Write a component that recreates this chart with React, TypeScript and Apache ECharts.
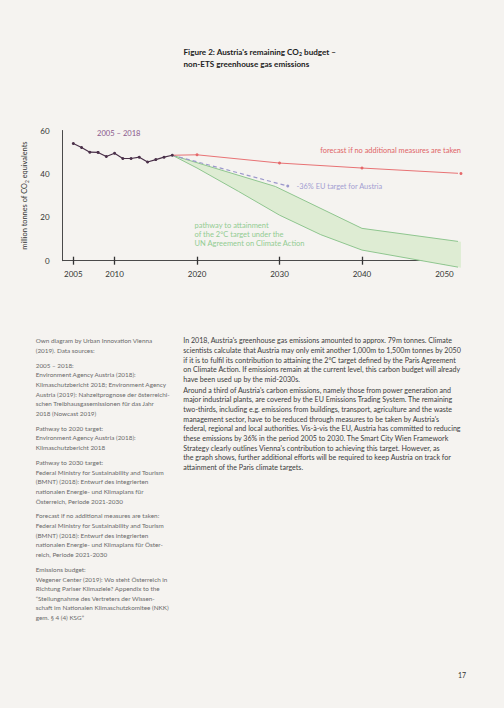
import React, { useEffect, useRef } from 'react';
import * as echarts from 'echarts';

const BG = '#f5f3f0';
const FONT = 'Lato, "Open Sans", sans-serif';

// ---- data ----
const histYears = [2005, 2006, 2007, 2008, 2009, 2010, 2011, 2012, 2013, 2014, 2015, 2016, 2017];
const histValues = [54.0, 52.2, 50.0, 49.9, 48.0, 49.5, 47.1, 47.1, 47.7, 45.5, 46.6, 47.7, 48.6];

const forecastYears = [2017, 2020, 2030, 2040, 2052];
const forecastValues = [48.6, 48.8, 45.0, 42.7, 40.2];

const euTargetYears = [2017, 2031];
const euTargetValues = [48.6, 34.4];

const pathUpperYears = [2017, 2029.5, 2040, 2052];
const pathUpperValues = [48.6, 34.2, 14.9, 8.7];

const pathLowerYears = [2017, 2020, 2025, 2030, 2035, 2040, 2052];
const pathLowerValues = [48.6, 42.7, 32.0, 21.0, 12.0, 4.9, -3.2];

const xTickYears = [2005, 2010, 2020, 2030, 2040, 2050];

const titleLines = ["Figure 2: Austria's remaining CO{s|2} budget –", 'non-ETS greenhouse gas emissions'];

const leftParas = [
  ['Own diagram by Urban Innovation Vienna', '(2019). Data sources:'],
  [
    '2005 – 2018:',
    'Environment Agency Austria (2018):',
    'Klimaschutzbericht 2018; Environment Agency',
    'Austria (2019): Nahzeitprognose der österreichi-',
    'schen Treibhausgasemissionen für das Jahr',
    '2018 (Nowcast 2019)',
  ],
  ['Pathway to 2020 target:', 'Environment Agency Austria (2018):', 'Klimaschutzbericht 2018'],
  [
    'Pathway to 2030 target:',
    'Federal Ministry for Sustainability and Tourism',
    '(BMNT) (2018): Entwurf des integrierten',
    'nationalen Energie- und Klimaplans für',
    'Österreich, Periode 2021-2030',
  ],
  [
    'Forecast if no additional measures are taken:',
    'Federal Ministry for Sustainability and Tourism',
    '(BMNT) (2018): Entwurf des integrierten',
    'nationalen Energie- und Klimaplans für Öster-',
    'reich, Periode 2021-2030',
  ],
  [
    'Emissions budget:',
    'Wegener Center (2019): Wo steht Österreich in',
    'Richtung Pariser Klimaziele? Appendix to the',
    '“Stellungnahme des Vertreters der Wissen-',
    'schaft im Nationalen Klimaschutzkomitee (NKK)',
    'gem. § 4 (4) KSG”',
  ],
];

const rightParas = [
  [
    "In 2018, Austria's greenhouse gas emissions amounted to approx. 79m tonnes. Climate",
    'scientists calculate that Austria may only emit another 1,000m to 1,500m tonnes by 2050',
    'if it is to fulfil its contribution to attaining the 2°C target defined by the Paris Agreement',
    'on Climate Action. If emissions remain at the current level, this carbon budget will already',
    'have been used up by the mid-2030s.',
  ],
  [
    "Around a third of Austria's carbon emissions, namely those from power generation and",
    'major industrial plants, are covered by the EU Emissions Trading System. The remaining',
    'two-thirds, including e.g. emissions from buildings, transport, agriculture and the waste',
    "management sector, have to be reduced through measures to be taken by Austria's",
    'federal, regional and local authorities. Vis-à-vis the EU, Austria has committed to reducing',
    'these emissions by 36% in the period 2005 to 2030. The Smart City Wien Framework',
    "Strategy clearly outlines Vienna's contribution to achieving this target. However, as",
    'the graph shows, further additional efforts will be required to keep Austria on track for',
    'attainment of the Paris climate targets.',
  ],
];

const pathwayLabel = ['pathway to attainment', 'of the 2°C target under the', 'UN Agreement on Climate Action'];

function zipPairs(xs: number[], ys: number[]) {
  return xs.map((x, i) => [x, ys[i]]);
}

function paraTexts(paras: string[][], x: number, y0: number, lh: number, gap: number, size: number, color: string) {
  const out: any[] = [];
  let y = y0;
  paras.forEach((p) => {
    p.forEach((line) => {
      out.push({
        type: 'text',
        x,
        y,
        silent: true,
        style: { text: line, fontSize: size, fontFamily: FONT, fill: color, align: 'left', verticalAlign: 'middle' },
      });
      y += lh;
    });
    y += gap;
  });
  return out;
}

export default function App() {
  const ref = useRef<HTMLDivElement>(null);

  useEffect(() => {
    document.body.style.background = BG;
    const chart = echarts.init(ref.current!, null, { renderer: 'svg' });

    const textEl = (text: string, x: number, y: number, size: number, color: string, align = 'left', weight: any = 'normal', rich?: any) => ({
      type: 'text',
      x,
      y,
      silent: true,
      style: {
        text,
        fontSize: size,
        fontFamily: FONT,
        fontWeight: weight,
        fill: color,
        align,
        verticalAlign: 'middle',
        rich,
      },
    });

    const titleRich = { s: { fontSize: 5.2, fontWeight: 'bold', fontFamily: FONT, fill: '#222', padding: [5, 0, 0, 0] } };

    const graphics: any[] = [
      textEl(titleLines[0], 183.5, 51.5, 8.1, '#222', 'left', 'bold', titleRich),
      textEl(titleLines[1], 183.5, 63.8, 8.1, '#222', 'left', 'bold'),
      textEl('2005 – 2018', 97, 132.5, 7.6, '#8a5a8c'),
      textEl('forecast if no additional measures are taken', 461, 150.8, 7.4, '#e06466', 'right'),
      textEl('-36% EU target for Austria', 296.5, 186.2, 7.4, '#a39ed2'),
      ...pathwayLabel.map((l, i) => textEl(l, 194.5, 225 + i * 9.4, 7.5, '#93cc93')),
      ...paraTexts(leftParas, 35.7, 340.7, 9.65, 5.2, 6.35, '#6a6a6a'),
      ...paraTexts(rightParas, 183.3, 340.7, 9.65, 1.2, 7.1, '#3c3c3c'),
      textEl('17', 462, 674.5, 7, '#333', 'center'),
    ];

    const option: any = {
      animation: false,
      backgroundColor: BG,
      grid: { left: 62.6, right: 48, top: 130.5, bottom: 447.3, containLabel: false },
      xAxis: [
        {
          type: 'value',
          min: 2003.7,
          max: 2051.4,
          position: 'bottom',
          axisLine: { show: true, lineStyle: { color: '#4a4a4a', width: 1 } },
          axisTick: { show: true, customValues: xTickYears, length: 4, lineStyle: { color: '#333', width: 1.3 } },
          axisLabel: {
            show: true,
            customValues: xTickYears,
            formatter: (v: number) => String(v),
            margin: 9,
            fontSize: 8,
            color: '#333',
            fontFamily: FONT,
          },
          splitLine: { show: false },
        },
        {
          type: 'value',
          min: 2003.7,
          max: 2051.4,
          position: 'bottom',
          axisLine: { show: false },
          axisTick: { show: true, inside: true, customValues: xTickYears, length: 4, lineStyle: { color: '#333', width: 1.3 } },
          axisLabel: { show: false },
          splitLine: { show: false },
        },
      ],
      yAxis: {
        type: 'value',
        min: 0,
        max: 60,
        interval: 20,
        axisLine: { show: true, lineStyle: { color: '#4a4a4a', width: 1 } },
        axisTick: { show: false },
        splitLine: { show: false },
        axisLabel: { margin: 13, fontSize: 8, color: '#333', fontFamily: FONT },
        name: 'million tonnes of CO{s|2} equivalents',
        nameLocation: 'middle',
        nameRotate: 90,
        nameGap: 32,
        nameTextStyle: {
          fontSize: 7.4,
          color: '#333',
          fontFamily: FONT,
          rich: { s: { fontSize: 4.8, color: '#333', fontFamily: FONT, padding: [0, 0, -4, 0] } },
        },
      },
      graphic: graphics,
      series: [
        {
          type: 'custom',
          clip: false,
          silent: true,
          z: 1,
          data: [[2030, 30]],
          renderItem: (params: any, api: any) => {
            const up = pathUpperYears.map((x, i) => api.coord([x, pathUpperValues[i]]));
            const lo = pathLowerYears.map((x, i) => api.coord([x, pathLowerValues[i]])).reverse();
            return {
              type: 'polygon',
              shape: { points: [...up, ...lo] },
              style: { fill: '#deecd3', stroke: 'none' },
            };
          },
        },
        {
          type: 'line',
          data: zipPairs(pathUpperYears, pathUpperValues),
          clip: false,
          symbol: 'none',
          lineStyle: { color: '#8fc68f', width: 1 },
          z: 2,
        },
        {
          type: 'line',
          data: zipPairs(pathLowerYears, pathLowerValues),
          clip: false,
          symbol: 'none',
          lineStyle: { color: '#8fc68f', width: 1 },
          z: 2,
        },
        {
          type: 'line',
          data: euTargetYears.map((x, i) => (i === 0 ? { value: [x, euTargetValues[i]], symbol: 'none' } : [x, euTargetValues[i]])),
          clip: false,
          symbol: 'circle',
          symbolSize: 3,
          showSymbol: true,
          itemStyle: { color: '#9c98cc' },
          lineStyle: { color: '#9c98cc', width: 1.2, type: [4, 3] },
          z: 3,
        },
        {
          type: 'line',
          data: forecastYears.map((x, i) => (i === 0 ? { value: [x, forecastValues[i]], symbol: 'none' } : [x, forecastValues[i]])),
          clip: false,
          symbol: 'circle',
          symbolSize: 3,
          showSymbol: true,
          itemStyle: { color: '#e5686a' },
          lineStyle: { color: '#e87274', width: 1 },
          z: 4,
        },
        {
          type: 'line',
          data: zipPairs(histYears, histValues),
          clip: false,
          symbol: 'circle',
          symbolSize: 3,
          showSymbol: true,
          itemStyle: { color: '#4a3049' },
          lineStyle: { color: '#4a3049', width: 1.2 },
          z: 5,
        },
      ],
    };

    chart.setOption(option);
    return () => chart.dispose();
  }, []);

  return <div ref={ref} style={{ position: 'absolute', left: 0, top: 0, width: 504, height: 708 }} />;
}
